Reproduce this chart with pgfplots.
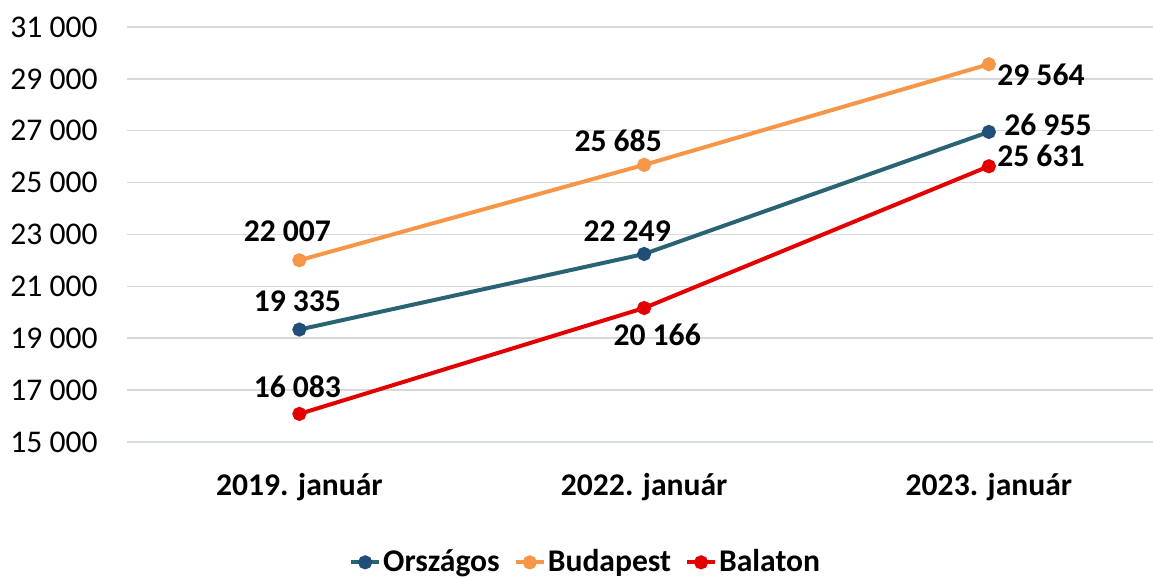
\documentclass[border=0pt]{standalone}
\usepackage{fontspec}
\setmainfont{Carlito}
\usepackage{pgfplots}
\pgfplotsset{compat=1.18}
\usepackage{pgfplotstable}
\usetikzlibrary{calc}
\definecolor{orsz}{HTML}{2A6373}
\definecolor{orszm}{HTML}{1F4E79}
\definecolor{bp}{HTML}{F79646}
\definecolor{bal}{HTML}{E30000}
\definecolor{gridc}{HTML}{D9D9D9}
\definecolor{axisc}{HTML}{D6DCE4}
\newcommand{\ff}{\fontsize{15.8}{19}\selectfont}

\pgfplotstableread{
x y dx dy
0 19335 -1 14
1 22249 -8.5 11.5
2 26955 29.5 3.5
}\orsztab
\pgfplotstableread{
x y dx dy
0 22007 -6 14.5
1 25685 -13 12
2 29564 26 -5.5
}\bptab
\pgfplotstableread{
x y dx dy
0 16083 -1 13.5
1 20166 6.5 -13.5
2 25631 26 5
}\baltab

\begin{document}
\begin{tikzpicture}
\begin{axis}[
  scale only axis, width=513pt, height=207.5pt,
  xmin=-0.5, xmax=2.476, ymin=15000, ymax=31000,
  clip=false,
  scaled y ticks=false,
  ytick={15000,17000,...,31000},
  xtick={0,1,2},
  xticklabels={2019. január, 2022. január, 2023. január},
  xtick style={draw=none},
  extra x ticks={-0.5,0.5,1.5},
  extra x tick labels={},
  extra x tick style={major tick length=5pt, tick align=outside, major tick style={draw=axisc, line width=0.75pt}},
  axis x line=bottom, axis y line=left,
  axis line style={-},
  x axis line style={draw=axisc, line width=0.75pt},
  y axis line style={draw=none},
  ytick style={draw=none},
  ymajorgrids, grid style={draw=gridc, line width=0.75pt},
  /pgf/number format/.cd, 1000 sep={\ }, assume math mode=true, /pgfplots/.cd,
  yticklabel style={font=\ff, xshift=-9pt},
  xticklabel style={font=\bfseries\ff, yshift=-10pt},
  legend style={draw=none, font=\bfseries\ff, legend columns=3,
    at={(axis description cs:0.447,-0.29)}, anchor=center,
    nodes={inner xsep=1pt},
    /tikz/every even column/.append style={column sep=6pt}},
  legend image code/.code={\draw[mark repeat=2,mark phase=2,#1] plot coordinates {(0pt,0pt) (7pt,0pt) (14pt,0pt)};},
  nodes near coords,
  visualization depends on={\thisrow{dx}\as\dx},
  visualization depends on={\thisrow{dy}\as\dy},
  every node near coord/.append style={anchor=center, xshift=\dx pt, yshift=\dy pt, font=\bfseries\ff, text=black},
]
\addplot[orsz, line width=2pt, mark=*, mark size=2.5pt, mark options={fill=orszm, draw=orszm}] table[x=x,y=y] {\orsztab};
\addlegendentry{Országos}
\addplot[bp, line width=2pt, mark=*, mark size=2.5pt, mark options={fill=bp, draw=bp}] table[x=x,y=y] {\bptab};
\addlegendentry{Budapest}
\addplot[bal, line width=2pt, mark=*, mark size=2.5pt, mark options={fill=bal, draw=bal}] table[x=x,y=y] {\baltab};
\addlegendentry{Balaton}
\coordinate (sw) at (rel axis cs:0,0);
\coordinate (ne) at (rel axis cs:1,1);
\end{axis}
\pgfresetboundingbox
\path ($(sw)+(-63.5pt,-67.5pt)$) rectangle ($(ne)+(0,13.5pt)$);
\end{tikzpicture}
\end{document}
